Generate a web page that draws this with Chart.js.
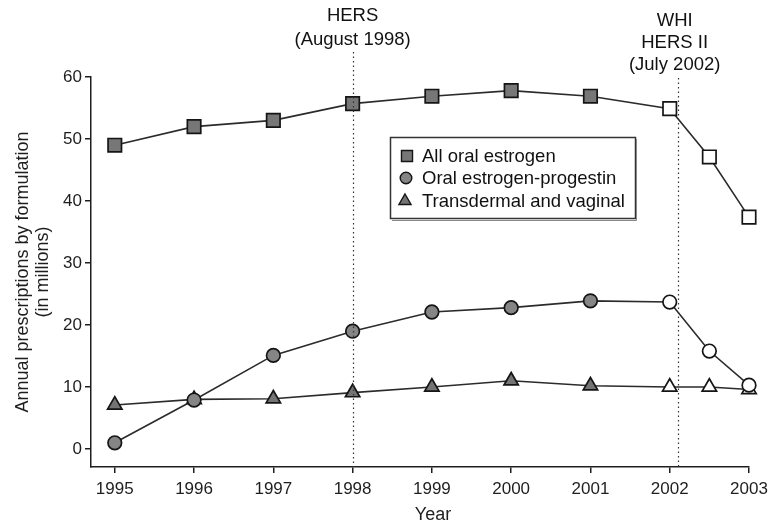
<!DOCTYPE html>
<html>
<head>
<meta charset="utf-8">
<script src="https://cdn.jsdelivr.net/npm/chart.js@4/dist/chart.umd.min.js"></script>
<style>
  html, body { margin: 0; padding: 0; background: #fff; }
  #wrap { width: 771px; height: 526px; position: relative; }
</style>
</head>
<body>
<div id="wrap"><canvas id="c" width="771" height="526"></canvas></div>
<script>
// ---- data ----
const years = [1995, 1996, 1997, 1998, 1999, 2000, 2001, 2002, 2002.5, 2003];
const allOralEstrogen = [49, 52, 53, 55.7, 56.9, 57.8, 56.9, 54.9, 47.1, 37.4];
const oralEstrogenProgestin = [1, 7.9, 15.1, 19, 22.1, 22.8, 23.9, 23.7, 15.8, 10.3];
const transdermalVaginal = [7.1, 8, 8.1, 9.1, 10, 11, 10.2, 10, 10, 9.6];
// open (post-WHI) markers flag
const openMarker = [false, false, false, false, false, false, false, true, true, true];
const seriesNames = ['All oral estrogen', 'Oral estrogen-progestin', 'Transdermal and vaginal'];
const xTickLabels = [1995, 1996, 1997, 1998, 1999, 2000, 2001, 2002, 2003];
const yTickLabels = [0, 10, 20, 30, 40, 50, 60];
const events = [
  { x: 1998, lines: ['HERS', '(August 1998)'] },
  { x: 2002.1, lines: ['WHI', 'HERS II', '(July 2002)'] }
];

const FONT = '"Liberation Sans", Arial, Helvetica, sans-serif';
const INK = '#1e1e1e';
const fills = ['#777777', '#858585', '#747474'];
const styles = ['rect', 'circle', 'triangle'];
const radii = [9.5, 6.8, 8.3];

function pts(vals) { return years.map((x, i) => ({ x: x, y: vals[i] })); }
function bg(fill) { return openMarker.map(o => o ? '#ffffff' : fill); }

const datasets = [allOralEstrogen, oralEstrogenProgestin, transdermalVaginal].map((vals, k) => ({
  label: seriesNames[k],
  data: pts(vals),
  borderColor: '#2b2b2b',
  borderWidth: 1.6,
  pointStyle: styles[k],
  pointRadius: radii[k],
  pointHoverRadius: radii[k],
  pointBackgroundColor: bg(fills[k]),
  pointBorderColor: '#151515',
  pointBorderWidth: 1.7,
  tension: 0,
  fill: false,
  clip: false
}));

const annotPlugin = {
  id: 'annot',
  afterDatasetsDraw(chart) {
    const ctx = chart.ctx;
    const xs = chart.scales.x;
    const area = chart.chartArea;
    ctx.save();
    // dotted event lines
    const tops = [52, 78];
    events.forEach((ev, i) => {
      const px = Math.round(xs.getPixelForValue(ev.x)) + 0.5;
      ctx.beginPath();
      ctx.setLineDash([1.5, 3]);
      ctx.strokeStyle = '#333';
      ctx.lineWidth = 1.2;
      ctx.moveTo(px, tops[i]);
      ctx.lineTo(px, area.bottom);
      ctx.stroke();
    });
    ctx.setLineDash([]);
    // event labels
    ctx.fillStyle = '#111';
    ctx.font = '18.5px ' + FONT;
    ctx.textAlign = 'center';
    ctx.textBaseline = 'middle';
    const lineYs = [[16, 40], [21, 43, 65]];
    const dx = [0, -3];
    events.forEach((ev, i) => {
      const px = xs.getPixelForValue(ev.x) + dx[i];
      ev.lines.forEach((t, j) => ctx.fillText(t, px, lineYs[i][j]));
    });
    // x axis title
    ctx.font = '18px ' + FONT;
    ctx.fillStyle = INK;
    ctx.fillText('Year', (area.left + area.right) / 2 + 13, 515);
    // legend box
    const bx = 390, by = 137, bw = 245, bh = 81;
    ctx.fillStyle = '#fff';
    ctx.fillRect(bx, by, bw, bh);
    ctx.strokeStyle = '#333';
    ctx.lineWidth = 1.5;
    ctx.strokeRect(bx + 0.5, by + 0.5, bw, bh);
    ctx.beginPath();
    ctx.moveTo(bx + 2, by + bh + 2.5);
    ctx.lineTo(bx + bw + 1.5, by + bh + 2.5);
    ctx.lineTo(bx + bw + 1.5, by + 2);
    ctx.lineWidth = 1;
    ctx.strokeStyle = '#888';
    ctx.stroke();
    const rowY = [156, 178, 201];
    const mx = [407, 406, 405];
    ctx.font = '18.5px ' + FONT;
    ctx.textAlign = 'left';
    seriesNames.forEach((name, k) => {
      ctx.fillStyle = fills[k];
      ctx.strokeStyle = '#151515';
      ctx.lineWidth = 1.4;
      Chart.helpers.drawPoint(ctx, { pointStyle: styles[k], radius: k === 0 ? 7.8 : (k === 1 ? 5.8 : 7), rotation: 0, borderWidth: 1.4 }, mx[k], rowY[k]);
      ctx.fillStyle = '#111';
      ctx.fillText(name, 422, rowY[k] + 1);
    });
    ctx.restore();
  }
};

new Chart(document.getElementById('c'), {
  type: 'line',
  data: { datasets: datasets },
  options: {
    responsive: false,
    animation: false,
    devicePixelRatio: 1,
    layout: { padding: { left: 0, top: 77, right: 22, bottom: 0 } },
    plugins: { legend: { display: false }, tooltip: { enabled: false } },
    scales: {
      x: {
        type: 'linear',
        min: 1994.7,
        max: 2003,
        afterBuildTicks: (s) => { s.ticks = xTickLabels.map(v => ({ value: v })); },
        afterFit: (s) => { s.height = 59; s.paddingLeft = 0; s.paddingRight = 0; },
        ticks: { autoSkip: false, maxRotation: 0, padding: 6, color: INK, font: { family: FONT, size: 17 }, callback: (v) => String(v) },
        grid: { display: true, drawOnChartArea: false, drawTicks: true, tickLength: 6, color: INK, lineWidth: 1.5 },
        border: { display: true, color: INK, width: 1.5 },
        title: { display: false, text: 'Year' }
      },
      y: {
        type: 'linear',
        min: -2.9,
        max: 60,
        afterBuildTicks: (s) => { s.ticks = yTickLabels.map(v => ({ value: v })); },
        afterFit: (s) => { s.width = 91; s.paddingTop = 0; s.paddingBottom = 0; },
        ticks: { padding: 3, color: INK, font: { family: FONT, size: 17 } },
        grid: { display: true, drawOnChartArea: false, drawTicks: true, tickLength: 6, color: INK, lineWidth: 1.5 },
        border: { display: true, color: INK, width: 1.5 },
        title: { display: true, text: ['Annual prescriptions by formulation', '(in millions)'], color: INK, font: { family: FONT, size: 18, lineHeight: 1.12 }, padding: { top: 13, bottom: 0 } }
      }
    }
  },
  plugins: [annotPlugin]
});
</script>
</body>
</html>
